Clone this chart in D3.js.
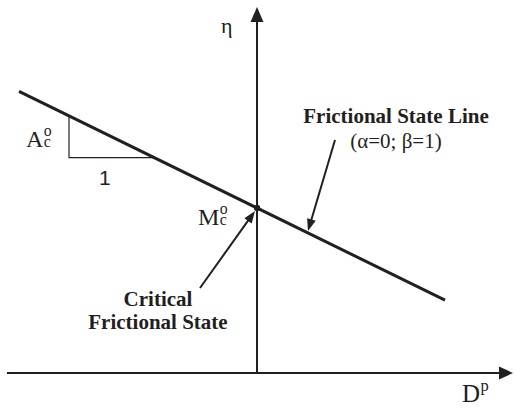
<!DOCTYPE html>
<html>
<head>
<meta charset="utf-8">
<script src="https://cdn.jsdelivr.net/npm/d3@7"></script>
<style>
  html, body { margin: 0; padding: 0; background: #fff; }
  svg { display: block; }
  .serif { font-family: "Liberation Serif", "Times New Roman", serif; fill: #231f20; }
  .sans { font-family: "Liberation Sans", Arial, sans-serif; fill: #231f20; }
</style>
</head>
<body>
<svg id="chart" width="515" height="408"></svg>
<script>
// Axis extents in (Dp, eta) units
const dpRange = [-5.0, 5.12];
const etaRange = [0, 7.32];

// Frictional state line: eta = Mc - Ac * Dp  (alpha = 0, beta = 1)
const Mc = 3.3;
const Ac = 0.49;
const lineDp = [-4.76, 3.76];

// Slope triangle drawn under the line
const triangleDp = [-3.76, -2.06];

// Pointer arrows (tail point, head point) in data units
const stateLineArrow = [[1.56, 4.66], [1.02, 2.84]];
const criticalArrow = [[-1.14, 1.7], [-0.04, 3.24]];

const ink = "#231f20";
const svg = d3.select("#chart");

const x = d3.scaleLinear().domain(dpRange).range([7, 513]);
const y = d3.scaleLinear().domain(etaRange).range([373, 7]);

const eta = dp => Mc - Ac * dp;

// Filled arrowhead polygon at (x2,y2) pointing away from (x1,y1)
function arrowHead(x1, y1, x2, y2, len, half) {
  const a = Math.atan2(y2 - y1, x2 - x1);
  const bx = x2 - len * Math.cos(a), by = y2 - len * Math.sin(a);
  const px = -Math.sin(a) * half, py = Math.cos(a) * half;
  return [[x2, y2], [bx + px, by + py], [bx - px, by - py]];
}

function arrow(p1, p2, width, len, half) {
  const [x1, y1, x2, y2] = [x(p1[0]), y(p1[1]), x(p2[0]), y(p2[1])];
  const a = Math.atan2(y2 - y1, x2 - x1);
  svg.append("line")
    .attr("x1", x1).attr("y1", y1)
    .attr("x2", x2 - (len - 1) * Math.cos(a)).attr("y2", y2 - (len - 1) * Math.sin(a))
    .attr("stroke", ink).attr("stroke-width", width);
  svg.append("polygon")
    .attr("points", arrowHead(x1, y1, x2, y2, len, half).map(p => p.join(",")).join(" "))
    .attr("fill", ink);
}

// Axes
arrow([dpRange[0], 0], [dpRange[1], 0], 2, 14, 6.5);
arrow([0, 0], [0, etaRange[1]], 2, 15, 6.5);

// Frictional state line
svg.append("line")
  .attr("x1", x(lineDp[0])).attr("y1", y(eta(lineDp[0])))
  .attr("x2", x(lineDp[1])).attr("y2", y(eta(lineDp[1])))
  .attr("stroke", ink).attr("stroke-width", 3);

// Slope triangle
svg.append("path")
  .attr("d", d3.line()([
    [x(triangleDp[0]), y(eta(triangleDp[0]))],
    [x(triangleDp[0]), y(eta(triangleDp[1]))],
    [x(triangleDp[1]), y(eta(triangleDp[1]))]
  ]))
  .attr("fill", "none").attr("stroke", ink).attr("stroke-width", 1.2);

// Critical frictional state point
svg.append("circle")
  .attr("cx", x(0)).attr("cy", y(Mc)).attr("r", 3.2).attr("fill", ink);

// Pointer arrows
arrow(stateLineArrow[0], stateLineArrow[1], 2, 12, 4.5);
arrow(criticalArrow[0], criticalArrow[1], 2, 12, 4.5);

// Symbol with stacked superscript / subscript, kept in one text element
function symbolLabel(tx, ty, main, sup, sub, size) {
  const t = svg.append("text").attr("class", "serif")
    .attr("x", tx).attr("y", ty).attr("font-size", size);
  const m = t.append("tspan").text(main);
  const w = m.node().getComputedTextLength();
  const small = size * 0.66;
  if (sup) t.append("tspan").attr("x", tx + w + 0.5).attr("y", ty - size * 0.45)
    .attr("font-size", small).text(sup);
  if (sub) t.append("tspan").attr("x", tx + w + 0.5).attr("y", ty)
    .attr("font-size", small).text(sub);
}

symbolLabel(26, 147, "A", "o", "c", 24);
symbolLabel(198, 225, "M", "o", "c", 24);
symbolLabel(462, 402, "D", "p", null, 25);

svg.append("text").attr("class", "serif")
  .attr("x", 221).attr("y", 33).attr("font-size", 22).text("η");

svg.append("text").attr("class", "sans")
  .attr("x", 99).attr("y", 185).attr("font-size", 21).text("1");

svg.append("text").attr("class", "serif")
  .attr("x", 396).attr("y", 123).attr("text-anchor", "middle")
  .attr("font-size", 21).attr("font-weight", "bold").text("Frictional State Line");
svg.append("text").attr("class", "serif")
  .attr("x", 396).attr("y", 148).attr("text-anchor", "middle")
  .attr("font-size", 21).text("(α=0; β=1)");

svg.append("text").attr("class", "serif")
  .attr("x", 158).attr("y", 306).attr("text-anchor", "middle")
  .attr("font-size", 21).attr("font-weight", "bold").text("Critical");
svg.append("text").attr("class", "serif")
  .attr("x", 158).attr("y", 329).attr("text-anchor", "middle")
  .attr("font-size", 21).attr("font-weight", "bold").text("Frictional State");
</script>
</body>
</html>
